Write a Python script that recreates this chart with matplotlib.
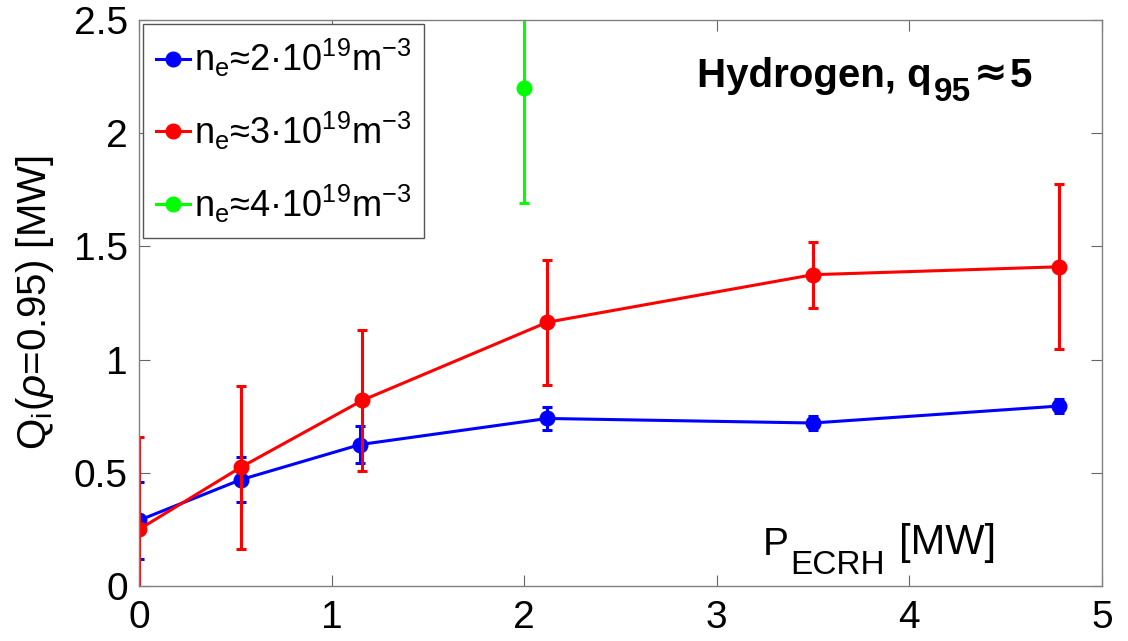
import matplotlib
matplotlib.use("Agg")
import matplotlib.pyplot as plt

plt.rcParams["font.family"] = ["Liberation Sans", "DejaVu Sans"]
plt.rcParams["mathtext.fontset"] = "custom"
plt.rcParams["mathtext.rm"] = "Liberation Sans"
plt.rcParams["mathtext.it"] = "Liberation Sans:italic"
plt.rcParams["mathtext.bf"] = "Liberation Sans:bold"

# ECRH power scan, ion heat flux at rho=0.95
p_ecrh_2 = [0.0, 0.53, 1.15, 2.12, 3.50, 4.78]
qi_2 = [0.29, 0.47, 0.625, 0.74, 0.72, 0.795]
err_2 = [0.17, 0.10, 0.08, 0.05, 0.03, 0.03]

p_ecrh_3 = [0.0, 0.53, 1.16, 2.12, 3.50, 4.78]
qi_3 = [0.25, 0.525, 0.82, 1.165, 1.375, 1.41]
err_3 = [0.41, 0.36, 0.31, 0.275, 0.145, 0.365]

p_ecrh_4 = [2.0]
qi_4 = [2.2]
err_4 = [0.51]

labels = [
    r"n$_\mathregular{e}$≈2·10$^\mathregular{19}$m$^\mathregular{-3}$",
    r"n$_\mathregular{e}$≈3·10$^\mathregular{19}$m$^\mathregular{-3}$",
    r"n$_\mathregular{e}$≈4·10$^\mathregular{19}$m$^\mathregular{-3}$",
]
colors = ["#0000ff", "#ff0000", "#00ff00"]

SANS = ["Liberation Sans", "DejaVu Sans"]


def text_run(ax, x, y, parts, **kw):
    """Write pieces side by side; each part is (text, fontsize, dy_pt, dx_pt, family)."""
    prev = None
    for s, size, dy, dx, fam in parts:
        if prev is None:
            prev = ax.text(x, y, s, fontsize=size, va="baseline", family=fam, **kw)
        else:
            prev = ax.annotate(s, xy=(1, 0), xycoords=prev, xytext=(dx, dy),
                               textcoords="offset points", fontsize=size,
                               va="bottom", family=fam, **kw)
    return prev


fig = plt.figure(figsize=(11.28, 6.41), dpi=100)
ax = fig.add_axes([0.1232, 0.0858, 0.8536, 0.883])

handles = []
series = [(p_ecrh_2, qi_2, err_2), (p_ecrh_3, qi_3, err_3), (p_ecrh_4, qi_4, err_4)]
for (x, y, e), c, lab in zip(series, colors, labels):
    ax.errorbar(x, y, yerr=e, fmt="none", ecolor=c, elinewidth=2.2,
                capsize=3.5, capthick=2.2)
    h, = ax.plot(x, y, "-o", color=c, lw=2.2, ms=10.5, label=lab)
    handles.append(h)

ax.set_xlim(0, 5)
ax.set_ylim(0, 2.5)
ax.set_xticks([0, 1, 2, 3, 4, 5])
ax.set_yticks([0, 0.5, 1, 1.5, 2, 2.5])
ax.set_yticklabels(["0", "0.5", "1", "1.5", "2", "2.5"])
ax.tick_params(direction="in", length=8, width=0.8, color="#666666",
               top=True, right=True, labelsize=28)
ax.tick_params(axis="x", pad=10)
ax.tick_params(axis="y", pad=8)
for sp in ax.spines.values():
    sp.set_color("#808080")
    sp.set_linewidth(1.0)

ax.set_ylabel(r"Q$_\mathregular{i}$($\rho$=0.95) [MW]", fontsize=29, labelpad=13)

# axis name written inside the plot, tex-style subscript
text_run(ax, 3.24, 0.137, [("P", 28, 0, 0, SANS),
                           ("ECRH", 24, -13, 1, SANS),
                           ("[MW]", 30, 13, 10, SANS)])

text_run(ax, 2.90, 2.204, [("Hydrogen, q", 29, 0, 0, SANS),
                           ("95", 24, -9, 1, SANS),
                           ("≈", 29, 9, 2, ["DejaVu Sans"]),
                           ("5", 29, 0, 2, SANS)], fontweight="bold")

leg = ax.legend(handles=handles, loc="upper left", fontsize=26,
                handlelength=0.95, handletextpad=0.1, borderpad=0.35,
                labelspacing=0.85, borderaxespad=0.12, fancybox=False,
                framealpha=1, edgecolor="#555555")
leg.get_frame().set_linewidth(1.0)

fig.savefig("out.png", dpi=100)
